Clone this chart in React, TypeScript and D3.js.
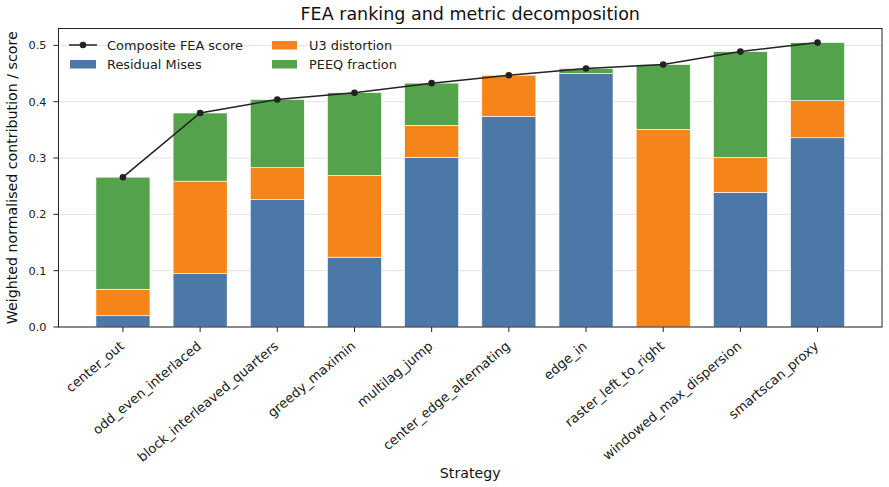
import React from "react";
import * as d3 from "d3";

const strategies = [
  "center_out",
  "odd_even_interlaced",
  "block_interleaved_quarters",
  "greedy_maximin",
  "multilag_jump",
  "center_edge_alternating",
  "edge_in",
  "raster_left_to_right",
  "windowed_max_dispersion",
  "smartscan_proxy",
];

// weighted contributions per strategy
const residualMises = [0.020, 0.095, 0.226, 0.124, 0.301, 0.374, 0.450, 0.0, 0.239, 0.336];
const u3Distortion = [0.047, 0.164, 0.057, 0.145, 0.057, 0.073, 0.0, 0.351, 0.062, 0.066];
const peeqFraction = [0.199, 0.121, 0.121, 0.147, 0.075, 0.0, 0.009, 0.115, 0.188, 0.103];
const composite = [0.266, 0.380, 0.404, 0.416, 0.433, 0.447, 0.459, 0.466, 0.489, 0.505];

const yTicks = [0, 0.1, 0.2, 0.3, 0.4, 0.5];

const series = [
  { key: "mises", label: "Residual Mises", color: "#4c78a8", values: residualMises },
  { key: "u3", label: "U3 distortion", color: "#f58518", values: u3Distortion },
  { key: "peeq", label: "PEEQ fraction", color: "#54a24b", values: peeqFraction },
];

const W = 889;
const H = 487;
const margin = { left: 58.5, right: 7, top: 28.5, bottom: 160 };

const App = () => {
  const x = d3
    .scaleLinear()
    .domain([-0.835, strategies.length - 1 + 0.835])
    .range([margin.left, W - margin.right]);
  const y = d3.scaleLinear().domain([0, 0.53]).range([H - margin.bottom, margin.top]);
  const barW = x(0.7) - x(0);

  const rows = strategies.map((s, i) => ({
    name: s,
    mises: residualMises[i],
    u3: u3Distortion[i],
    peeq: peeqFraction[i],
  }));
  const stacked = d3.stack<any>().keys(series.map((s) => s.key))(rows);

  const line = d3
    .line<number>()
    .x((_, i) => x(i))
    .y((d) => y(d));

  const font = "DejaVu Sans, sans-serif";
  const plotTop = margin.top;
  const plotBottom = H - margin.bottom;
  const midX = (margin.left + W - margin.right) / 2;

  return (
    <svg width={W} height={H} style={{ position: "absolute", left: 0, top: 0 }} fontFamily={font}>
      <rect width={W} height={H} fill="#fff" />
      <text x={midX} y={19.5} textAnchor="middle" fontSize={17.5} fill="#111">
        FEA ranking and metric decomposition
      </text>
      {yTicks.map((t) => (
        <line
          key={"g" + t}
          x1={margin.left}
          x2={W - margin.right}
          y1={y(t)}
          y2={y(t)}
          stroke="#e3e3e3"
          strokeWidth={1}
        />
      ))}
      {stacked.map((layer, si) => (
        <g key={layer.key}>
          {layer.map((d, i) =>
            d[1] - d[0] > 0 ? (
              <rect
                key={i}
                x={x(i) - barW / 2}
                y={y(d[1])}
                width={barW}
                height={y(d[0]) - y(d[1])}
                fill={series[si].color}
                stroke="#fff"
                strokeWidth={0.6}
              />
            ) : null
          )}
        </g>
      ))}
      <path d={line(composite) || ""} fill="none" stroke="#222" strokeWidth={1.5} />
      {composite.map((v, i) => (
        <circle key={i} cx={x(i)} cy={y(v)} r={3.3} fill="#222" />
      ))}
      <rect
        x={margin.left}
        y={plotTop}
        width={W - margin.right - margin.left}
        height={plotBottom - plotTop}
        fill="none"
        stroke="#222"
        strokeWidth={1}
      />
      {yTicks.map((t) => (
        <g key={"t" + t}>
          <line x1={margin.left - 5} x2={margin.left} y1={y(t)} y2={y(t)} stroke="#222" />
          <text x={46.5} y={y(t)} dy="0.36em" textAnchor="end" fontSize={11.3} fill="#222">
            {t.toFixed(1)}
          </text>
        </g>
      ))}
      {strategies.map((s, i) => (
        <g key={s}>
          <line x1={x(i)} x2={x(i)} y1={plotBottom} y2={plotBottom + 5} stroke="#222" />
          <text
            transform={`translate(${x(i) + 2},${plotBottom + 20.5}) rotate(-40)`}
            textAnchor="end"
            fontSize={13.2}
            fill="#222"
          >
            {s}
          </text>
        </g>
      ))}
      <text x={midX} y={478} textAnchor="middle" fontSize={14.2} fill="#111">
        Strategy
      </text>
      <text
        transform={`translate(16.5,${(plotTop + plotBottom) / 2}) rotate(-90)`}
        textAnchor="middle"
        fontSize={14.2}
        fill="#111"
      >
        Weighted normalised contribution / score
      </text>
      {/* legend */}
      <g fontSize={12.9} fill="#222">
        <line x1={69} x2={97} y1={45} y2={45} stroke="#222" strokeWidth={1.5} />
        <circle cx={83} cy={45} r={3.3} fill="#222" />
        <text x={107} y={45} dy="0.36em">Composite FEA score</text>
        <rect x={70} y={60} width={26} height={8.5} fill={series[0].color} />
        <text x={107} y={64.3} dy="0.36em">{series[0].label}</text>
        <rect x={272} y={41} width={25} height={8.5} fill={series[1].color} />
        <text x={309} y={45.3} dy="0.36em">{series[1].label}</text>
        <rect x={272} y={60} width={25} height={8.5} fill={series[2].color} />
        <text x={309} y={64.3} dy="0.36em">{series[2].label}</text>
      </g>
    </svg>
  );
};

export default App;
